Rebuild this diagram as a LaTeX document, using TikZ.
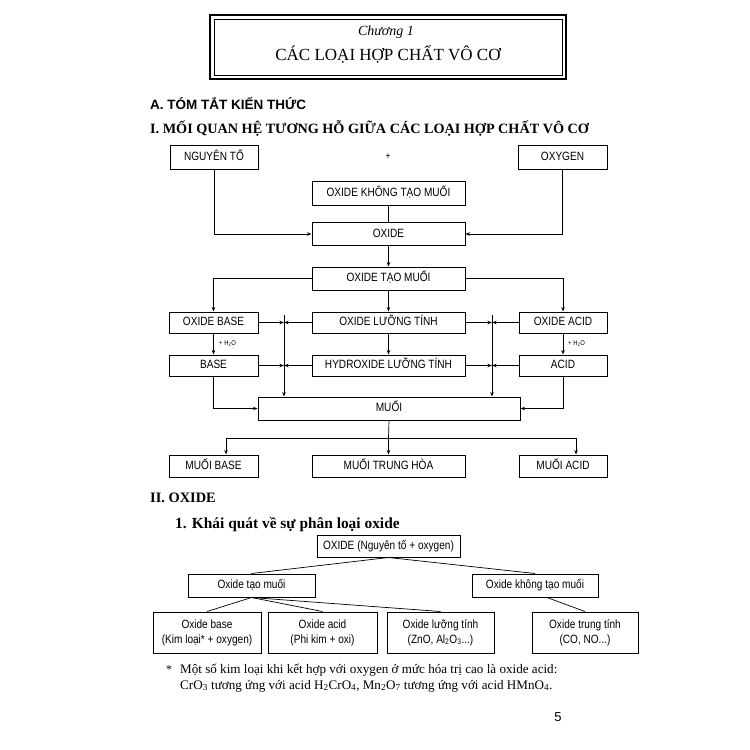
\documentclass[tikz,border=0pt]{standalone}
\usepackage{fontspec}
\setmainfont{Liberation Serif}
\newfontfamily\nf[FakeStretch=0.84]{Liberation Sans}
\newfontfamily\hsans{Liberation Sans}
\usetikzlibrary{arrows.meta}
\begin{document}
\begin{tikzpicture}[x=1pt,y=-1pt,
  box/.style={draw, line width=1pt, inner sep=1pt, text height=8.6pt, text depth=2.4pt, font=\nf\fontsize{12}{13}\selectfont},
  box2/.style={draw, line width=1pt, inner sep=1pt, align=center, font=\nf\fontsize{12}{15}\selectfont},
  ln/.style={line width=0.7pt},
  arr/.style={ln, -{Stealth[length=4.5pt,width=3.5pt]}},
  small/.style={font=\nf\fontsize{7}{8}\selectfont, inner sep=0pt},
  head/.style={anchor=base west, inner sep=0pt},
]
\useasboundingbox[fill=white] (0,0) rectangle (750,750);

% ---- title frame
\draw[line width=1.8pt] (210,15) rectangle (566,79);
\draw[line width=0.6pt] (214,19) rectangle (562,75);
\node[inner sep=0pt, font=\itshape\fontsize{14}{16}\selectfont] (chap) at (386,32) {Chương 1};
\node[inner sep=0pt, font=\fontsize{17}{19}\selectfont] (title) at (388,54) {CÁC LOẠI HỢP CHẤT VÔ CƠ};

% ---- headings
\node[head, font=\hsans\bfseries\fontsize{13.5}{15}\selectfont] (hA) at (150,109) {A. TÓM TẮT KIẾN THỨC};
\node[head, font=\bfseries\fontsize{14.2}{16}\selectfont] (hI) at (150,133) {I. MỐI QUAN HỆ TƯƠNG HỖ GIỮA CÁC LOẠI HỢP CHẤT VÔ CƠ};

% ---- part I flowchart
\node[box, minimum width=88, minimum height=24] (ngto) at (214,157) {NGUYÊN TỐ};
\node[inner sep=0pt, font=\nf\fontsize{10}{11}\selectfont] (plus) at (388,157) {+};
\node[box, minimum width=89, minimum height=24] (oxy) at (562.5,157) {OXYGEN};
\node[box, minimum width=153, minimum height=24] (oktm) at (388.5,193) {OXIDE KHÔNG TẠO MUỐI};
\node[box, minimum width=153, minimum height=23] (oxide) at (388.5,234) {OXIDE};
\node[box, minimum width=153, minimum height=23] (otm) at (388.5,278.5) {OXIDE TẠO MUỐI};

\node[box, minimum width=89, minimum height=21] (oxbase) at (213.5,322.5) {OXIDE BASE};
\node[box, minimum width=153, minimum height=21] (oxlt) at (388.5,322.5) {OXIDE LƯỠNG TÍNH};
\node[box, minimum width=88, minimum height=21] (oxacid) at (563,322.5) {OXIDE ACID};

\node[box, minimum width=89, minimum height=21] (base) at (213.5,365.5) {BASE};
\node[box, minimum width=153, minimum height=21] (hlt) at (388.5,365.5) {HYDROXIDE LƯỠNG TÍNH};
\node[box, minimum width=88, minimum height=21] (acid) at (563,365.5) {ACID};

\node[small, anchor=west] (h2oL) at (219,343.5) {+ H\textsubscript{2}O};
\node[small, anchor=west] (h2oR) at (568,343.5) {+ H\textsubscript{2}O};

\node[box, minimum width=262, minimum height=23] (muoi) at (389,408.5) {MUỐI};

\node[box, minimum width=89, minimum height=22] (mbase) at (213.5,466) {MUỐI BASE};
\node[box, minimum width=153, minimum height=22] (mth) at (388.5,466) {MUỐI TRUNG HÒA};
\node[box, minimum width=88, minimum height=22] (macid) at (563,466) {MUỐI ACID};

\draw[arr] (ngto.south) |- (oxide.west);
\draw[arr] (oxy.south) |- (oxide.east);
\draw[ln] (oxide.north) -- (oktm.south);
\draw[arr] (oxide.south) -- (otm.north);
\draw[arr] (otm.west) -| (oxbase.north);
\draw[arr] (otm.east) -| (oxacid.north);
\draw[arr] (otm.south) -- (oxlt.north);
\draw[arr] (oxbase.south) -- (base.north);
\draw[arr] (oxlt.south) -- (hlt.north);
\draw[arr] (oxacid.south) -- (acid.north);

\coordinate (vL) at (284,315);
\coordinate (vR) at (492,315);
\draw[arr] (vL) -- (vL |- muoi.north);
\draw[arr] (vR) -- (vR |- muoi.north);
\draw[arr] (oxbase.east) -- (oxbase.east -| vL);
\draw[arr] (oxlt.west) -- (oxlt.west -| vL);
\draw[arr] (base.east) -- (base.east -| vL);
\draw[arr] (hlt.west) -- (hlt.west -| vL);
\draw[arr] (oxlt.east) -- (oxlt.east -| vR);
\draw[arr] (oxacid.west) -- (oxacid.west -| vR);
\draw[arr] (hlt.east) -- (hlt.east -| vR);
\draw[arr] (acid.west) -- (acid.west -| vR);
\draw[arr] (base.south) |- (muoi.west);
\draw[arr] (acid.south) |- (muoi.east);

\coordinate (jL) at (226,438);
\coordinate (jR) at (576,438);
\coordinate (jM) at (388.5,438);
\draw[ln] (muoi.south) -- (jM);
\draw[ln] (jL) -- (jR);
\draw[arr] (jL) -- (jL |- mbase.north);
\draw[arr] (jM) -- (mth.north);
\draw[arr] (jR) -- (jR |- macid.north);

% ---- part II
\node[head, font=\bfseries\fontsize{14.4}{16}\selectfont] (hII) at (150,502) {II. OXIDE};
\node[head, font=\bfseries\fontsize{15.4}{17}\selectfont] (h1) at (175,528) {1. Khái quát về sự phân loại oxide};

\node[box, minimum width=143, minimum height=22] (ox2) at (388.5,546) {OXIDE (Nguyên tố + oxygen)};
\node[box, minimum width=127, minimum height=23] (otm2) at (251.5,585.5) {Oxide tạo muối};
\node[box, minimum width=126, minimum height=23] (oktm2) at (535,585.5) {Oxide không tạo muối};

\node[box2, minimum width=108, minimum height=41] (b1) at (207,632.5) {Oxide base\\(Kim loại* + oxygen)};
\node[box2, minimum width=109, minimum height=41] (b2) at (322.5,632.5) {Oxide acid\\(Phi kim + oxi)};
\node[box2, minimum width=107, minimum height=41] (b3) at (440.5,632.5) {Oxide lưỡng tính\\(ZnO, Al\textsubscript{2}O\textsubscript{3}...)};
\node[box2, minimum width=106, minimum height=41] (b4) at (585,632.5) {Oxide trung tính\\(CO, NO...)};

\draw[ln] (ox2.south) -- (otm2.north);
\draw[ln] (ox2.south) -- (oktm2.north);
\draw[ln] (otm2.south) -- (b1.north);
\draw[ln] (otm2.south) -- (b2.north);
\draw[ln] (otm2.south) -- (b3.north);
\draw[ln] ([xshift=12pt]oktm2.south) -- (b4.north);

% ---- footnote
\node[anchor=base west, inner sep=0pt, font=\fontsize{12}{14}\selectfont] (star) at (166,673) {*};
\node[anchor=base west, inner sep=0pt, font=\fontsize{13.1}{15}\selectfont] (note1) at (180,673)
  {Một số kim loại khi kết hợp với oxygen ở mức hóa trị cao là oxide acid:};
\node[anchor=base west, inner sep=0pt, font=\fontsize{13.1}{15}\selectfont] (note2) at (180,689)
  {CrO\textsubscript{3} tương ứng với acid H\textsubscript{2}CrO\textsubscript{4}, Mn\textsubscript{2}O\textsubscript{7} tương ứng với acid HMnO\textsubscript{4}.};

\node[inner sep=0pt, font=\hsans\fontsize{13}{14}\selectfont] (page) at (558,717) {5};
\end{tikzpicture}
\end{document}
